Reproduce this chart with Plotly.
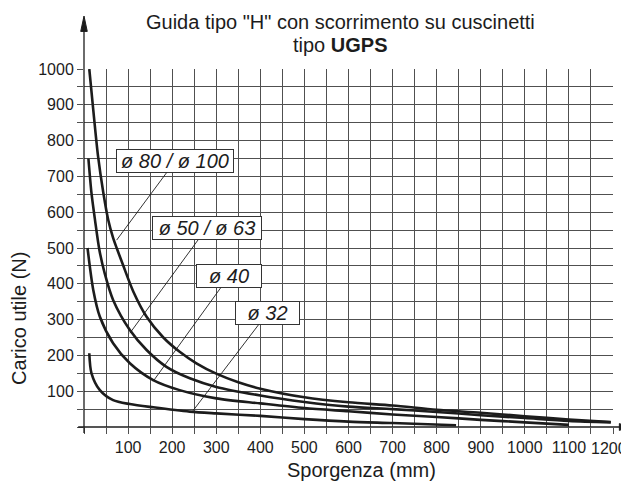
import plotly.graph_objects as go

# ---------------- data ----------------
x_d80 = [12, 21, 32, 44, 55, 66, 75, 89, 112, 142, 180, 217, 255, 300, 350, 400, 500, 600, 700, 800, 900, 1000, 1100, 1195]
y_d80 = [1000, 886, 755, 653, 578, 528, 497, 451, 378, 308, 250, 210, 178, 149, 125, 107, 83, 69, 60, 48, 40, 30, 21, 14]

x_d50 = [10, 17, 25, 35, 47, 66, 104, 142, 187, 240, 300, 400, 500, 600, 700, 800, 900, 1000, 1100, 1195]
y_d50 = [750, 653, 578, 494, 429, 355, 271, 215, 168, 136, 112, 88, 70, 57, 50, 42, 33, 25, 17, 13]

x_d40 = [8, 21, 36, 66, 104, 157, 217, 300, 400, 500, 600, 700, 800, 900, 1000, 1100]
y_d40 = [500, 383, 308, 234, 178, 131, 103, 80, 66, 53, 44, 35, 28, 20, 13, 6]

x_d32 = [12, 17, 36, 66, 104, 157, 240, 300, 400, 500, 600, 700, 844]
y_d32 = [206, 150, 103, 75, 64, 55, 43, 38, 31, 22, 15, 11, 5]

series_labels = ["ø 80 / ø 100", "ø 50 / ø 63", "ø 40", "ø 32"]

x_ticks = list(range(0, 1201, 50))
x_last = x_ticks[-1]
x_tick_text = [str(v) if (v % 100 == 0 and 0 < v < x_last) else "" for v in x_ticks]
y_ticks = list(range(0, 1001, 50))
y_tick_text = [str(v) if (v % 100 == 0 and v > 0) else "" for v in y_ticks]

title_line1 = 'Guida tipo "H" con scorrimento su cuscinetti'
title_line2 = "tipo <b>UGPS</b>"
x_title = "Sporgenza (mm)"
y_title = "Carico utile (N)"

# ---------------- figure ----------------
FONT = "Liberation Sans, Arial, Helvetica, sans-serif"
INK = "#1c1c1c"
GRID = "#505050"

fig = go.Figure()
for xs, ys, name in [(x_d80, y_d80, series_labels[0]), (x_d50, y_d50, series_labels[1]),
                     (x_d40, y_d40, series_labels[2]), (x_d32, y_d32, series_labels[3])]:
    fig.add_trace(go.Scatter(x=xs, y=ys, mode="lines", name=name,
                             line=dict(color=INK, width=2.6, shape="spline", smoothing=0.8),
                             showlegend=False, hoverinfo="skip"))

# label boxes with leader lines (text centre -> point on curve)
label_specs = [
    (series_labels[0], 207, 743, 74, 522, 114),
    (series_labels[1], 278, 555, 104, 262, 106),
    (series_labels[2], 329, 421, 157, 128, 62),
    (series_labels[3], 416, 318, 247, 45, 61),
]
for txt, tx, ty, px, py, w in label_specs:
    fig.add_annotation(x=px, y=py, xref="x", yref="y", ax=tx, ay=ty, axref="x", ayref="y",
                       text="<i>" + txt + "</i>", showarrow=True, arrowhead=0, arrowwidth=0.9,
                       arrowcolor=INK, standoff=0, startstandoff=0,
                       font=dict(family=FONT, size=20, color=INK),
                       bgcolor="white", bordercolor="#333", borderwidth=1, borderpad=1,
                       width=w, height=20, align="center")

# last x tick label, kept inside the page edge
fig.add_annotation(text=str(x_last), x=1.0302, y=-0.059, xref="paper", yref="paper",
                   showarrow=False, xanchor="right", yanchor="middle",
                   font=dict(family=FONT, size=16, color=INK))

# titles
fig.add_annotation(text=title_line1, x=0.484, y=1.131, xref="paper", yref="paper",
                   showarrow=False, xanchor="center", yanchor="middle",
                   font=dict(family=FONT, size=20, color=INK))
fig.add_annotation(text=title_line2, x=0.484, y=1.068, xref="paper", yref="paper",
                   showarrow=False, xanchor="center", yanchor="middle",
                   font=dict(family=FONT, size=20, color=INK))
fig.add_annotation(text=x_title, x=0.524, y=-0.1215, xref="paper", yref="paper",
                   showarrow=False, xanchor="center", yanchor="middle",
                   font=dict(family=FONT, size=20, color=INK))
fig.add_annotation(text=y_title, x=-0.124, y=0.303, xref="paper", yref="paper",
                   showarrow=False, xanchor="center", yanchor="middle", textangle=-90,
                   font=dict(family=FONT, size=20, color=INK))

# axis lines with arrows (paper coordinates, not clipped)
fig.add_shape(type="line", xref="paper", yref="paper", x0=0, x1=0, y0=-0.017, y1=1.12,
              line=dict(color=INK, width=1.3))
fig.add_shape(type="path", xref="paper", yref="paper",
              path="M -0.0062 1.105 L 0.0062 1.105 L 0 1.148 Z",
              fillcolor=INK, line=dict(color=INK, width=1))
fig.add_shape(type="line", xref="paper", yref="paper", x0=-0.011, x1=1.015, y0=0, y1=0,
              line=dict(color=INK, width=1.3))
fig.add_shape(type="path", xref="paper", yref="paper",
              path="M 1.012 0.0095 L 1.012 -0.0095 L 1.03 0 Z",
              fillcolor=INK, line=dict(color=INK, width=1))

fig.update_xaxes(range=[0, 1200], tickmode="array", tickvals=x_ticks, ticktext=x_tick_text,
                 showgrid=True, gridcolor=GRID, gridwidth=1.2, zeroline=False, showline=False,
                 ticks="outside", ticklen=6, tickwidth=1.2, tickcolor=GRID,
                 ticklabeloverflow="allow", automargin=False,
                 tickfont=dict(family=FONT, size=16, color=INK), fixedrange=True)
fig.update_yaxes(range=[0, 1000], tickmode="array", tickvals=y_ticks, ticktext=y_tick_text,
                 showgrid=True, gridcolor=GRID, gridwidth=1.2, zeroline=False, showline=False,
                 ticks="outside", ticklen=6, tickwidth=1.2, tickcolor=GRID, automargin=False,
                 tickfont=dict(family=FONT, size=16, color=INK), fixedrange=True)

# the page body adds an 8px margin, so the figure is 8px smaller on each side
fig.update_layout(width=621, height=473, margin=dict(l=76, r=16, t=61, b=54, autoexpand=False),
                  paper_bgcolor="white", plot_bgcolor="white", showlegend=False)

fig.write_html("out.html")
